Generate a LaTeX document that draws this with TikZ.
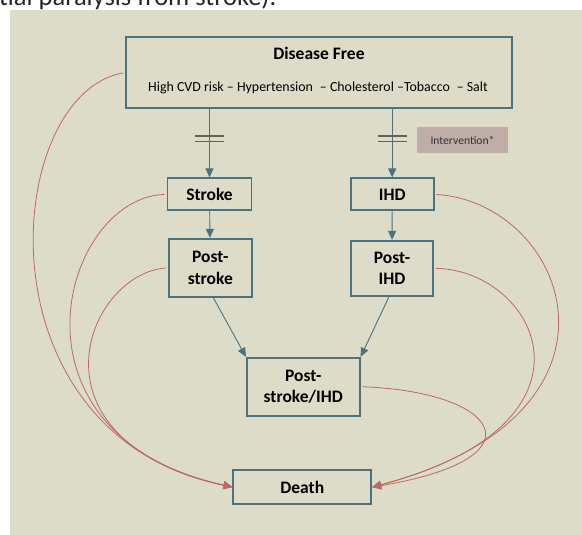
\documentclass[tikz,border=0pt]{standalone}
\usepackage{fontspec}
\setmainfont{Carlito}
\usetikzlibrary{arrows.meta,calc}
\definecolor{paper}{RGB}{221,220,200}
\definecolor{boxline}{RGB}{76,114,130}
\definecolor{deathline}{RGB}{190,104,98}
\definecolor{barline}{RGB}{96,99,88}
\definecolor{tag}{RGB}{191,173,167}
\begin{document}
\begin{tikzpicture}[x=1pt, y=1pt,
  main node/.style={draw=boxline,line width=1.8pt,align=center,inner sep=0pt},
  flow/.style={-{Triangle[length=9pt,width=8pt]},draw=boxline,line width=0.9pt},
  exit/.style={-{Triangle[length=9pt,width=8pt]},draw=deathline,line width=0.8pt,shorten <=2pt},
  cut/.style={draw=barline,line width=1.8pt}]
\useasboundingbox (0,0) rectangle (582,535);
\clip (0,0) rectangle (582,535);
\fill [paper] (10,0) rectangle (582,525);
\node [anchor=base west,inner sep=0pt,font=\fontsize{26.5}{30}\selectfont,text=black!85] (caption) at (-1,529.5) {tial paralysis from stroke).};
\begin{scope}[every node/.style={font=\fontsize{17.5}{21.7}\selectfont\bfseries}]
\node [main node,minimum width=386pt,minimum height=71pt] (free) at (319,462.5) {};
\node (freetitle) at (319,481.5) {Disease Free};
\node [main node,minimum width=84pt,minimum height=32pt] (stroke) at (209.5,340.6) {Stroke};
\node [main node,minimum width=83pt,minimum height=58pt] (poststroke) at (210.3,267.2) {Post-\\stroke};
\node [main node,minimum width=83pt,minimum height=32pt] (ihd) at (392.2,340.6) {IHD};
\node [main node,minimum width=82pt,minimum height=55pt] (postihd) at (392,266.7) {Post-\\IHD};
\node [main node,minimum width=113pt,minimum height=58pt] (both) at (303.3,148.3) {Post-\\stroke/IHD};
\node [main node,minimum width=138pt,minimum height=34pt] (death) at (302.3,47.9) {Death};
\end{scope}
\node [font=\fontsize{13.9}{16}\selectfont] (risks) at (318,447.3) {High CVD risk – Hypertension\enspace – Cholesterol –Tobacco\enspace – Salt};
\node [fill=tag,minimum width=91pt,minimum height=26pt,font=\fontsize{11.6}{13}\selectfont,text=black!80] (intervention) at (462.5,394.7) {Intervention*};
% arrows between states
\draw [flow] (free.south -| stroke.north) -- (stroke.north);
\draw [flow] (free.south -| ihd.north) -- (ihd.north);
\draw [flow] (stroke) -- (poststroke);
\draw [flow] (ihd) -- (postihd);
\draw [flow] ([xshift=3pt]poststroke.south) -- (both.north west);
\draw [flow] ([xshift=-3pt]postihd.south) -- (both.north east);
\foreach \n in {stroke,ihd}
  \foreach \dy in {27.5,32.7}
    \draw [cut] ($(free.south -| \n.north)+(-14.5,-\dy)$) -- ++(29,0);
% transitions to death
\draw [exit] (free.west) .. controls ($(free.west)+(-123,-22)$) and ($(death.west)+(-258,53)$) .. (death.west);
\draw [exit] (stroke.west) .. controls ($(stroke.west)+(-104,-3)$) and ($(death.west)+(-238,53)$) .. (death.west);
\draw [exit] (poststroke.west) .. controls ($(poststroke.west)+(-81,-6)$) and ($(death.west)+(-213,48)$) .. (death.west);
\draw [exit] (ihd.east) .. controls ($(ihd.east)+(132,-8)$) and ($(death.east)+(278,74)$) .. (death.east);
\draw [exit] (postihd.east) .. controls ($(postihd.east)+(103,-2)$) and ($(death.east)+(243,64)$) .. (death.east);
\draw [exit] (both.east) .. controls ($(both.east)+(138,-5)$) and ($(death.east)+(173,29)$) .. (death.east);
\end{tikzpicture}
\end{document}
